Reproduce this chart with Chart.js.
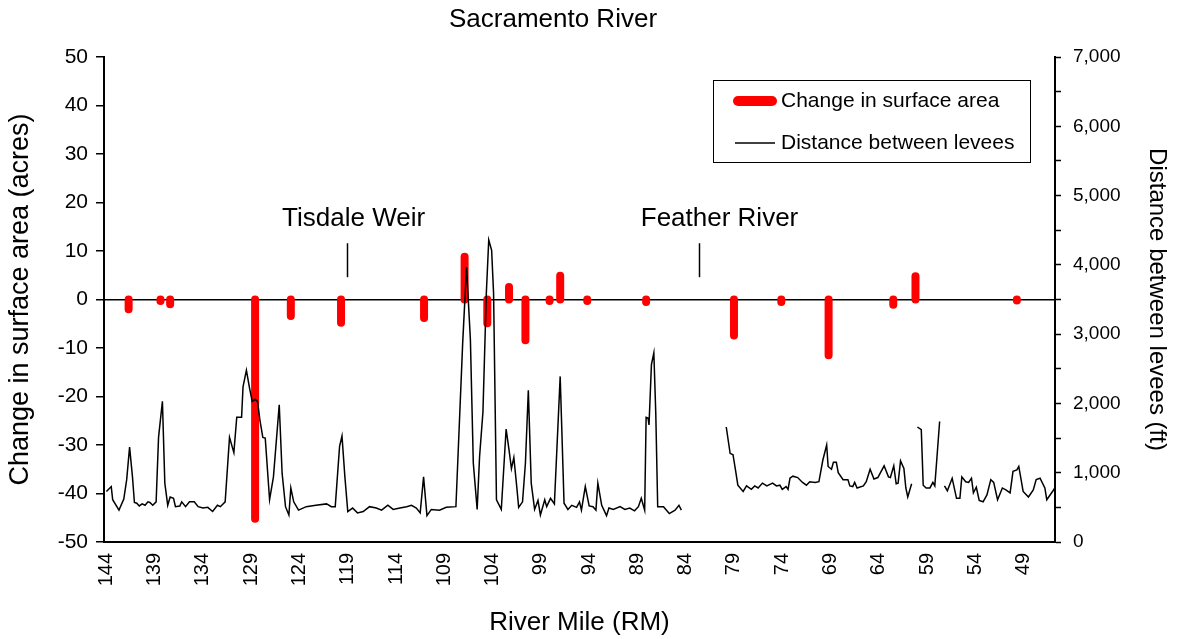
<!DOCTYPE html>
<html>
<head>
<meta charset="utf-8">
<title>Sacramento River</title>
<script src="https://cdn.jsdelivr.net/npm/chart.js@4.4.1/dist/chart.umd.min.js"></script>
<style>
  html, body { margin: 0; padding: 0; background: #fff; }
</style>
</head>
<body>
<canvas id="chart" width="1177" height="639"></canvas>
<script>
// tick labels on the river mile axis
const mileTicks = [144, 139, 134, 129, 124, 119, 114, 109, 104, 99, 94, 89, 84, 79, 74, 69, 64, 59, 54, 49];

// change in surface area (acres)
const changeMiles = [141.7, 138.4, 137.4, 128.6, 124.9, 119.7, 111.1, 106.9, 104.55, 102.3, 100.6,
  98.1, 97.0, 94.2, 88.1, 79.0, 74.1, 69.2, 62.5, 60.2, 49.7];
const changeAcres = [-2.0, -0.3, -1.0, -45.2, -3.4, -4.8, -3.8, 8.8, -4.9, 2.6, -8.4,
  -0.3, 4.9, -0.3, -0.5, -7.4, -0.5, -11.5, -1.1, 4.8, -0.2];

// distance between levees (ft), null where there is no data
const leveeMiles = [
  144.0, 143.5, 143.35, 142.7, 142.2, 141.9, 141.6, 141.3, 141.1, 140.85, 140.6, 140.3, 140.0, 139.7,
  139.5, 139.2, 138.85, 138.6, 138.2, 137.95, 137.65, 137.4, 137.05, 136.85, 136.4, 136.2, 135.8, 135.4,
  134.9, 134.5, 134.0, 133.5, 133.0, 132.5, 132.2, 131.7, 131.25, 130.8, 130.5, 130.0, 129.85, 129.5,
  129.2, 128.9, 128.6, 128.35, 128.1, 127.8, 127.55, 127.1, 126.7, 126.1, 125.8, 125.45, 125.1, 124.9,
  124.6, 124.1, 123.3, 122.3, 121.2, 120.7, 120.3, 119.85, 119.6, 119.3, 119.0, 118.5, 118.0, 117.4,
  116.75, 116.05, 115.5, 114.85, 114.3, 113.6, 112.9, 112.4, 111.9, 111.5, 111.15, 110.8, 110.35, 109.5,
  108.8, 107.8, 107.1, 106.7, 106.3, 106.0, 105.6, 105.35, 105.0, 104.65, 104.4, 104.1, 103.9, 103.6,
  103.1, 102.6, 102.3, 102.05, 101.8, 101.5, 101.3, 100.9, 100.6, 100.3, 100.0, 99.65, 99.3, 99.05,
  98.6, 98.4, 98.0, 97.6, 97.0, 96.6, 96.2, 95.8, 95.3, 95.0, 94.8, 94.4, 94.0, 93.6,
  93.3, 93.1, 92.7, 92.2, 91.95, 91.5, 90.8, 90.3, 89.8, 89.3, 88.9, 88.6, 88.25, 88.1,
  87.9, 87.8, 87.55, 87.3, 87.1, 86.9, 86.3, 85.7, 85.1, 84.7, 84.45,
  82.0,
  79.8, 79.4, 79.1, 78.8, 78.6, 78.05, 77.7, 77.2, 76.85, 76.5, 76.05, 75.6, 75.0, 74.6,
  74.25, 74.0, 73.6, 73.4, 73.2, 72.9, 72.4, 71.9, 71.5, 71.15, 70.6, 70.2, 69.8, 69.4,
  69.25, 68.9, 68.7, 68.4, 68.2, 67.7, 67.2, 67.0, 66.7, 66.5, 66.25, 65.6, 65.3, 64.9,
  64.5, 64.1, 63.45, 63.0, 62.8, 62.45, 62.2, 62.0, 61.75, 61.4, 61.2, 61.0, 60.6,
  60.3,
  60.0, 59.6, 59.4, 59.1, 58.7, 58.4, 58.2, 57.95, 57.7,
  57.45,
  57.2, 56.9, 56.4, 55.95, 55.6, 55.4, 55.0, 54.7, 54.4, 54.2, 53.9, 53.6, 53.2, 52.8,
  52.4, 52.1, 51.7, 51.2, 50.8, 50.4, 50.1, 49.7, 49.5, 49.05, 48.5, 48.0, 47.7, 47.3,
  46.8, 46.6, 45.9, 45.75
];
const leveeFeet = [
  730, 800, 610, 460, 620, 900, 1370, 940, 570, 560, 520, 550, 530, 580,
  570, 530, 580, 1510, 2030, 850, 530, 650, 630, 510, 520, 580, 510, 580,
  580, 510, 490, 500, 440, 530, 510, 580, 1510, 1290, 1800, 1800, 2240, 2480,
  2240, 2030, 2060, 2030, 1760, 1510, 1500, 610, 940, 1980, 990, 510, 390, 780,
  580, 460, 510, 530, 550, 510, 510, 1380, 1530, 940, 440, 490, 420, 440,
  510, 490, 460, 530, 470, 490, 510, 530, 490, 420, 940, 380, 470, 460,
  500, 510, 2870, 3970, 2920, 1140, 470, 1230, 1880, 3590, 4360, 4210, 3590, 610,
  470, 1630, 1330, 1060, 1220, 800, 500, 580, 1140, 2190, 850, 470, 600, 390,
  610, 510, 630, 550, 2390, 560, 470, 530, 500, 580, 460, 800, 520, 510,
  460, 850, 530, 380, 490, 470, 510, 470, 490, 450, 510, 630, 460, 1800,
  1790, 1690, 2560, 2730, 1860, 510, 510, 410, 460, 530, 460,
  null,
  1660, 1280, 1260, 1000, 820, 730, 810, 760, 810, 780, 850, 810, 850, 810,
  820, 760, 800, 760, 920, 950, 930, 860, 820, 870, 860, 870, 1180, 1400,
  1090, 1050, 1150, 1150, 1000, 900, 900, 810, 800, 860, 780, 810, 870, 1050,
  910, 930, 1100, 940, 930, 1100, 840, 850, 1170, 1060, 780, 650, 840,
  null,
  1660, 1620, 820, 780, 780, 860, 810, 1270, 1740,
  null,
  810, 740, 920, 630, 630, 940, 870, 860, 920, 710, 790, 600, 580, 680,
  900, 860, 610, 780, 750, 710, 1020, 1040, 1090, 730, 650, 750, 900, 920,
  780, 610, 750, 790
];

// places marked on the chart
const placeNames = ['Tisdale Weir', 'Feather River'];
const placeMiles = [119.1, 82.65];
const placeLabelMiles = [118.4, 80.5];

const FONT = '"Liberation Sans", Arial, sans-serif';
Chart.defaults.font.family = FONT;
Chart.defaults.color = '#000';

const datasets = [{
  label: 'Distance between levees',
  data: leveeMiles.map((m, i) => ({ x: m, y: leveeFeet[i] })),
  yAxisID: 'y2',
  borderColor: '#000',
  borderWidth: 1.5,
  pointRadius: 0,
  tension: 0,
  spanGaps: false
}];

// each change is a thick red stroke from zero to its value
changeMiles.forEach((m, i) => {
  datasets.push({
    label: 'Change in surface area',
    data: [{ x: m, y: 0 }, { x: m, y: changeAcres[i] }],
    yAxisID: 'y',
    borderColor: '#ff0000',
    borderWidth: 8,
    borderCapStyle: 'round',
    pointRadius: 0
  });
});

const notes = {
  id: 'notes',
  afterDraw(chart) {
    const { ctx, chartArea, scales: { x, y } } = chart;
    ctx.save();
    ctx.fillStyle = '#000';
    ctx.textBaseline = 'middle';
    ctx.textAlign = 'center';

    // chart title
    ctx.font = '26px ' + FONT;
    ctx.fillText('Sacramento River', 553, 20);

    // place markers
    ctx.strokeStyle = '#000';
    ctx.lineWidth = 1.5;
    placeNames.forEach((name, i) => {
      const px = Math.round(x.getPixelForValue(placeMiles[i])) + 0.5;
      ctx.beginPath();
      ctx.moveTo(px, y.getPixelForValue(11.6));
      ctx.lineTo(px, y.getPixelForValue(4.6));
      ctx.stroke();
      ctx.fillText(name, x.getPixelForValue(placeLabelMiles[i]), y.getPixelForValue(16.6));
    });

    // legend box
    const left = chartArea.right - 342;
    const top = chartArea.top + 23;
    ctx.lineWidth = 1;
    ctx.strokeRect(left + 0.5, top + 0.5, 317, 82);

    ctx.strokeStyle = '#ff0000';
    ctx.lineWidth = 10;
    ctx.lineCap = 'round';
    ctx.beginPath();
    ctx.moveTo(left + 25, top + 21);
    ctx.lineTo(left + 59, top + 21);
    ctx.stroke();

    ctx.strokeStyle = '#000';
    ctx.lineWidth = 1.5;
    ctx.lineCap = 'butt';
    ctx.beginPath();
    ctx.moveTo(left + 22, top + 63);
    ctx.lineTo(left + 62, top + 63);
    ctx.stroke();

    ctx.font = '21px ' + FONT;
    ctx.textAlign = 'left';
    ctx.fillText('Change in surface area', left + 68, top + 21);
    ctx.fillText('Distance between levees', left + 68, top + 63);

    ctx.restore();
  }
};

new Chart(document.getElementById('chart'), {
  type: 'line',
  data: { datasets },
  options: {
    responsive: false,
    animation: false,
    events: [],
    layout: { padding: { top: 57 } },
    plugins: {
      legend: { display: false },
      tooltip: { enabled: false },
      title: { display: false }
    },
    scales: {
      x: {
        type: 'linear',
        reverse: true,
        min: 45.75,
        max: 144.25,
        afterBuildTicks: s => { s.ticks = mileTicks.map(v => ({ value: v })); },
        afterFit: s => { s.height = 97; },
        grid: { display: false },
        border: { display: true, color: '#000', width: 2 },
        ticks: {
          autoSkip: false,
          minRotation: 90,
          maxRotation: 90,
          padding: 3,
          font: { size: 20 },
          color: '#000'
        },
        title: {
          display: true,
          text: 'River Mile (RM)',
          font: { size: 26 },
          color: '#000',
          padding: { top: 4, bottom: 1 }
        }
      },
      y: {
        position: 'left',
        min: -50,
        max: 50,
        z: 1,
        afterFit: s => { s.width = 104; },
        grid: {
          color: c => (c.tick && c.tick.value === 0 ? '#000' : 'rgba(0,0,0,0)'),
          lineWidth: 1.5,
          tickColor: '#000',
          tickLength: 8,
          tickWidth: 1.5
        },
        border: { display: true, color: '#000', width: 2 },
        ticks: { stepSize: 10, padding: 8, font: { size: 21 }, color: '#000' },
        title: {
          display: true,
          text: 'Change in surface area (acres)',
          font: { size: 27 },
          color: '#000',
          padding: { top: 4, bottom: 0 }
        }
      },
      y2: {
        position: 'right',
        min: 0,
        max: 7000,
        afterFit: s => { s.width = 122; },
        grid: {
          drawOnChartArea: false,
          tickColor: '#000',
          tickLength: 6,
          tickWidth: 1.5
        },
        border: { display: true, color: '#000', width: 2 },
        ticks: {
          stepSize: 500,
          autoSkip: false,
          padding: 12,
          font: { size: 19 },
          color: '#000',
          callback: v => (v % 1000 === 0 ? v.toLocaleString('en-US') : '')
        },
        title: {
          display: true,
          text: 'Distance between levees (ft)',
          font: { size: 24 },
          color: '#000',
          padding: { top: 6, bottom: 0 }
        }
      }
    }
  },
  plugins: [notes]
});
</script>
</body>
</html>
